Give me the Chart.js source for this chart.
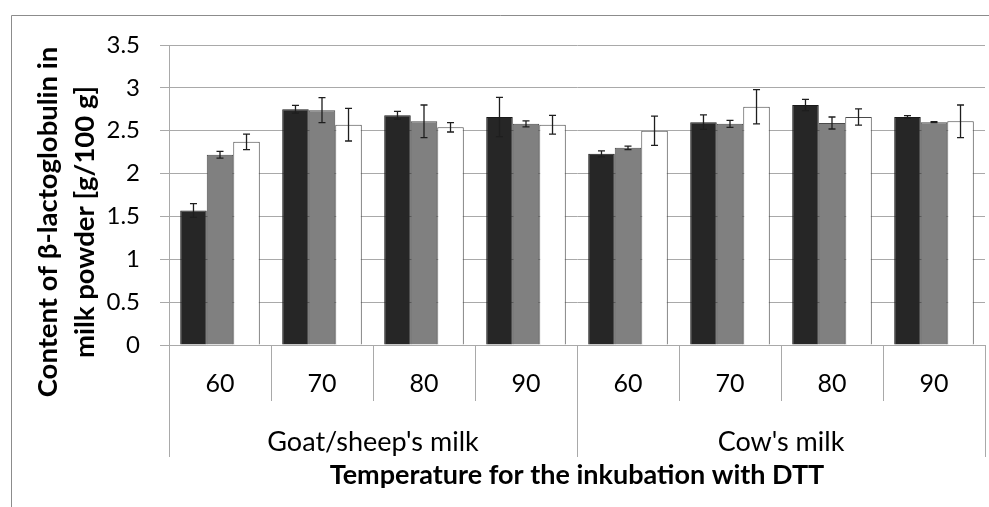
<!DOCTYPE html>
<html>
<head>
<meta charset="utf-8">
<script src="https://cdn.jsdelivr.net/npm/chart.js@4/dist/chart.umd.min.js"></script>
<style>
    html, body { margin: 0; padding: 0; background: #fff; }
    #wrap { width: 989px; height: 507px; position: relative; }
</style>
</head>
<body>
<div id="wrap"><canvas id="betaChart"></canvas></div>
<script>
// temperatures (deg C) for each milk type
const temperatures = ["60", "70", "80", "90", "60", "70", "80", "90"];
const milkGroups = ["Goat/sheep's milk", "Cow's milk"];
const yTicks = [0, 0.5, 1, 1.5, 2, 2.5, 3, 3.5];

// g/100 g
const series1 = [1.57, 2.75, 2.68, 2.66, 2.23, 2.60, 2.80, 2.66];
const series2 = [2.22, 2.74, 2.61, 2.58, 2.30, 2.58, 2.59, 2.60];
const series3 = [2.37, 2.57, 2.54, 2.57, 2.50, 2.78, 2.66, 2.61];
const err1 = [0.08, 0.045, 0.045, 0.23, 0.035, 0.085, 0.065, 0.015];
const err2 = [0.04, 0.145, 0.19, 0.035, 0.02, 0.04, 0.07, 0.005];
const err3 = [0.09, 0.19, 0.055, 0.11, 0.17, 0.2, 0.095, 0.19];

const errors = [err1, err2, err3];
const gridColor = "#a9a9a9";

const frame = {
    id: "frame",
    beforeDraw: (chart) => {
        const ctx = chart.ctx;
        ctx.save();
        ctx.fillStyle = "#fff";
        ctx.fillRect(0, 0, chart.width, chart.height);
        ctx.strokeStyle = "#8c8c8c";
        ctx.lineWidth = 1;
        ctx.beginPath();
        ctx.moveTo(11.5, chart.height);
        ctx.lineTo(11.5, 15.5);
        ctx.lineTo(chart.width, 15.5);
        ctx.stroke();
        ctx.restore();
    },
};

const errorBars = {
    id: "errorBars",
    afterDatasetsDraw: (chart) => {
        const ctx = chart.ctx;
        const y = chart.scales.y;
        ctx.save();
        ctx.strokeStyle = "#1e1e1e";
        ctx.lineWidth = 1.3;
        chart.data.datasets.forEach((ds, i) => {
            const meta = chart.getDatasetMeta(i);
            meta.data.forEach((bar, j) => {
                const v = ds.data[j];
                const e = errors[i][j];
                const top = y.getPixelForValue(v + e);
                const bottom = y.getPixelForValue(v - e);
                ctx.beginPath();
                ctx.moveTo(bar.x, top);
                ctx.lineTo(bar.x, bottom);
                ctx.moveTo(bar.x - 3.5, top);
                ctx.lineTo(bar.x + 3.5, top);
                ctx.moveTo(bar.x - 3.5, bottom);
                ctx.lineTo(bar.x + 3.5, bottom);
                ctx.stroke();
            });
        });
        ctx.restore();
    },
};

// group labels under the temperatures, long dividers, y title
const groupAxis = {
    id: "groupAxis",
    afterDraw: (chart) => {
        const ctx = chart.ctx;
        const x = chart.scales.x;
        const area = chart.chartArea;
        const per = temperatures.length / milkGroups.length;
        const half = (x.getPixelForValue(1) - x.getPixelForValue(0)) / 2;
        ctx.save();
        ctx.strokeStyle = gridColor;
        ctx.lineWidth = 1;
        for (let g = 0; g <= milkGroups.length; g++) {
            const px = Math.round(x.getPixelForValue(g * per) - half) + 0.5;
            ctx.beginPath();
            ctx.moveTo(px, area.bottom);
            ctx.lineTo(px, 457);
            ctx.stroke();
        }
        ctx.fillStyle = "#000";
        ctx.textAlign = "center";
        ctx.textBaseline = "middle";
        ctx.font = "27px Lato";
        milkGroups.forEach((name, g) => {
            const a = x.getPixelForValue(g * per);
            const b = x.getPixelForValue(g * per + per - 1);
            ctx.fillText(name, (a + b) / 2, 442);
        });

        ctx.translate(0, 222);
        ctx.rotate(-Math.PI / 2);
        ctx.font = "bold 27.5px Lato";
        ctx.fillText("Content of β-lactoglobulin in", 0, 48);
        ctx.fillText("milk powder [g/100 g]", 0, 85);
        ctx.restore();
    },
};

const ctx = document.getElementById("betaChart").getContext("2d");
const betaChart = new Chart(ctx, {
    type: "bar",
    data: {
        labels: temperatures,
        datasets: [
            {
                label: "Series 1",
                data: series1,
                backgroundColor: "#262626",
                borderColor: "#1a1a1a",
                borderWidth: 1,
            },
            {
                label: "Series 2",
                data: series2,
                backgroundColor: "#808080",
                borderColor: "#4a4a4a",
                borderWidth: 1,
            },
            {
                label: "Series 3",
                data: series3,
                backgroundColor: "#ffffff",
                borderColor: "#4a4a4a",
                borderWidth: 1,
            },
        ],
    },
    options: {
        responsive: true,
        maintainAspectRatio: false,
        animation: false,
        layout: {
            padding: { top: 45, right: 4, left: 0, bottom: 0 },
        },
        datasets: {
            bar: {
                categoryPercentage: 0.78,
                barPercentage: 1.0,
            },
        },
        plugins: {
            legend: { display: false },
            tooltip: { enabled: false },
        },
        scales: {
            x: {
                grid: {
                    offset: true,
                    drawOnChartArea: false,
                    tickLength: 56,
                    color: gridColor,
                },
                border: { color: gridColor },
                ticks: {
                    color: "#000",
                    padding: -32,
                    autoSkip: false,
                    maxRotation: 0,
                    font: { family: "Lato", size: 25 },
                },
                title: {
                    display: true,
                    text: "Temperature for the inkubation with DTT",
                    color: "#000",
                    font: { family: "Lato", size: 27, weight: "bold" },
                    padding: { top: 0, bottom: 16 },
                },
                afterFit: (scale) => {
                    scale.height = 162;
                },
            },
            y: {
                min: 0,
                max: 3.5,
                afterBuildTicks: (scale) => {
                    scale.ticks = yTicks.map((v) => ({ value: v }));
                },
                grid: {
                    color: gridColor,
                    tickLength: 9,
                },
                border: { color: gridColor },
                ticks: {
                    color: "#000",
                    padding: 20,
                    font: { family: "Lato", size: 24 },
                    callback: (v) => String(v),
                },
                afterFit: (scale) => {
                    scale.width = 169;
                },
            },
        },
    },
    plugins: [frame, errorBars, groupAxis],
});
</script>
</body>
</html>
